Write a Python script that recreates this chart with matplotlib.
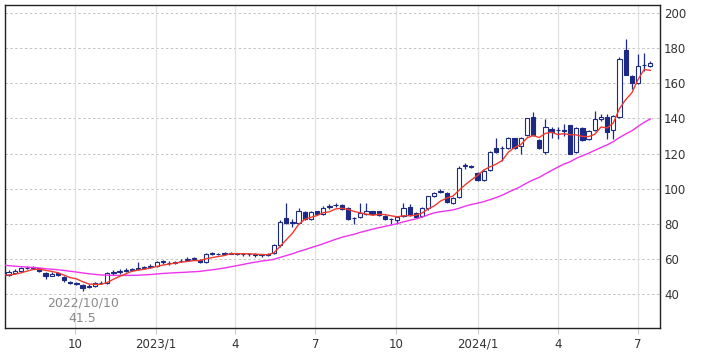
import pandas as pd
import matplotlib
matplotlib.use("Agg")
import matplotlib.pyplot as plt
import matplotlib.dates as mdates

# weekly candles 2022-07-18 .. 2024-07-15
weeks = pd.date_range("2022-07-18", periods=105, freq="7D")

opens = [51, 52, 53, 54.5, 55, 54.5, 52, 50.5, 52, 49.5,
         47, 45.5, 45, 44, 44.5, 46, 46, 52, 52.5, 53,
         53.5, 54, 55, 55.5, 56, 59, 57.5, 57.5, 58.5, 59.5,
         60, 59.5, 58, 63.5, 62.5, 63, 63, 63, 63, 62.5,
         62.5, 62.2, 62.2, 63.5, 67.8, 83, 80.5, 80.5, 86.6, 82.6,
         87, 85.5, 89.5, 90.5, 90.5, 89, 83, 84, 85.5, 87,
         87, 84.5, 82.8, 82.2, 84.6, 89.5, 86, 84.6, 88.7, 95.7,
         98.3, 97.5, 92, 95, 113, 113, 109, 105, 110.5, 123,
         123, 123, 128.8, 124, 130.5, 140.7, 127.6, 121, 134, 133.3,
         133.5, 136, 121, 134.5, 128, 133.5, 139.6, 140.7, 133.3, 140.7,
         179, 164, 160, 170.2, 169.8]
closes = [52.5, 53, 54.5, 55, 54.8, 53, 50, 51.5, 51, 48,
          46, 46.5, 43.5, 44.5, 46.5, 46.3, 52, 52.5, 52.8, 53.5,
          54, 55, 55.2, 56, 58, 58, 57.8, 58, 59, 59.8,
          60.3, 58, 63, 62.5, 62.8, 63.2, 63.3, 62.8, 62.5, 62.5,
          62.2, 62.2, 62.5, 67.8, 81, 80.5, 81, 87.5, 82.6, 86.6,
          85.8, 89, 90, 90.8, 88.5, 82.6, 83.2, 86, 87, 85.5,
          85, 82.6, 82.5, 84, 88.7, 85, 84, 88.7, 95.7, 97.5,
          98.6, 92.5, 94.5, 112, 113.4, 112.5, 105, 110, 121, 121,
          123.2, 128.8, 123, 129, 140, 130.5, 123, 135, 132, 133.5,
          133, 120, 134.5, 127.6, 133, 139.6, 140.7, 132, 141.5, 174,
          165, 160, 169.8, 170.5, 171.5]
highs = [53.5, 54, 55.5, 56, 55.8, 55, 52.5, 52.5, 52.5, 50,
         47.5, 47, 45.5, 45.5, 47, 47.5, 52.5, 53.5, 54, 54.5,
         55, 58, 56, 57, 58.5, 59.5, 58.5, 59, 60, 61,
         61, 60, 63.5, 64, 63.5, 64, 64, 63.5, 63.5, 63.5,
         63.5, 63, 63.5, 68.5, 82, 92, 82.5, 89, 87.5, 87.5,
         87.5, 90, 91.5, 92, 91, 89.5, 84, 92, 92, 87.5,
         87.5, 85, 83.5, 84.5, 92, 91, 86.5, 89.5, 96, 98,
         99.5, 98, 95, 113, 114.5, 113.5, 109.5, 110.5, 121.5, 129,
         124, 129.5, 129, 129.5, 140.5, 143.6, 128, 139.5, 135, 135,
         137, 136.5, 135, 135, 133.5, 144, 142.5, 142.5, 142, 175,
         185, 164.5, 176.6, 177, 172.5]
lows = [50.5, 51.5, 52.5, 54, 54, 52.5, 48.5, 50, 50.5, 47,
        45.5, 45, 41.5, 43.5, 44, 45.5, 45.5, 51, 51.5, 52.5,
        53, 53.5, 54, 55, 55.5, 57, 56.5, 57, 58, 59,
        59.5, 57.5, 57.5, 62, 62, 62.5, 62.5, 62, 61.5, 61.5,
        61, 61, 61.5, 63, 67, 80, 78, 80, 82, 82,
        85, 85, 88.5, 89.5, 88, 82, 80, 83.5, 85, 85,
        84.5, 82, 80, 80, 84, 84.5, 83, 84, 88, 95,
        97.5, 92, 91, 94.5, 111, 112, 104.5, 104.5, 110, 120.5,
        116, 122.5, 122.5, 120, 130, 130, 122.5, 120, 129, 128.5,
        130, 119.5, 120.5, 127, 127.5, 133, 138.5, 128.5, 128.5, 140,
        164.5, 156.7, 159.5, 167, 169.3]

# closes of the 26 weeks before the window, only feed the moving averages
prev_closes = [62, 61.5, 61.5, 61, 61, 60.5, 60, 59.5, 59, 58.5, 58, 57.5, 57,
               56.5, 56, 55.5, 55, 54.5, 54, 53.5, 53, 52.5, 51, 50.5, 50, 50]

tick_dates = ["2022-10-01", "2023-01-01", "2023-04-01", "2023-07-01",
              "2023-10-01", "2024-01-01", "2024-04-01", "2024-07-01"]
tick_labels = ["10", "2023/1", "4", "7", "10", "2024/1", "4", "7"]

navy = "#1c2a85"

all_dates = pd.date_range(end=weeks[-1], periods=len(prev_closes) + len(closes), freq="7D")
all_close = pd.Series(prev_closes + closes)
ma_short = all_close.rolling(5).mean()
ma_long = all_close.rolling(26).mean()
start = len(prev_closes) - 1

x = mdates.date2num(weeks)
xa = mdates.date2num(all_dates)

fig = plt.figure(figsize=(7.09, 3.54), dpi=100)
ax = fig.add_axes([5 / 709, 1 - 328 / 354, 655 / 709, 323 / 354])

# grid
for v in range(40, 201, 20):
    ax.axhline(v, color="#c2c2c2", lw=0.7, ls=(0, (2.5, 2.5)), zorder=0)
tx = mdates.date2num(pd.to_datetime(tick_dates))
for t in tx:
    ax.axvline(t, color="#e0e0e0", lw=0.9, zorder=0)

# candles
for xi, o, h, l, c in zip(x, opens, highs, lows, closes):
    ax.vlines(xi, l, h, color=navy, lw=0.9, zorder=2)
    body = max(abs(c - o), 0.35)
    bottom = min(o, c)
    face = "white" if c >= o else navy
    ax.bar(xi, body, bottom=bottom, width=4.8, color=face, edgecolor=navy,
           linewidth=0.8, zorder=3)

ax.plot(xa[start:], ma_long[start:], color="#ee33ee", lw=1.0, zorder=4)
ax.plot(xa[start:], ma_short[start:], color="#f03a2e", lw=1.0, zorder=4)

# lowest price note
i_low = lows.index(min(lows))
ax.text(x[i_low], 38.3, weeks[i_low].strftime("%Y/%m/%d").replace("/0", "/") + "\n" + str(min(lows)),
        ha="center", va="top", fontsize=9, color="#8a8a8a", linespacing=1.2)

ax.set_xlim(mdates.date2num(pd.Timestamp("2022-07-14")), mdates.date2num(pd.Timestamp("2024-07-26")))
ax.set_ylim(20.6, 204.6)

ax.set_xticks(tx)
ax.set_xticklabels(tick_labels)
ax.set_yticks(range(40, 201, 20))
ax.yaxis.tick_right()
ax.tick_params(axis="y", length=0, pad=3, labelsize=8.5, labelcolor="#333333")
ax.tick_params(axis="x", length=4, color="#cccccc", pad=3, labelsize=8.5, labelcolor="#333333")
for s in ax.spines.values():
    s.set_color("#222222")
    s.set_linewidth(1.0)

fig.savefig("out.png", dpi=100)
